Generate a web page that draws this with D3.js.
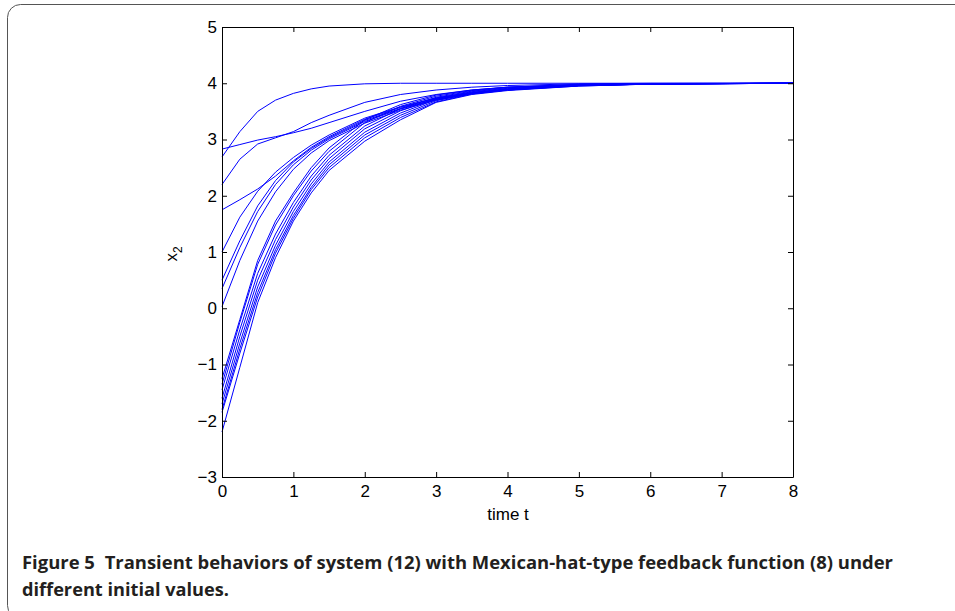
<!DOCTYPE html>
<html>
<head>
<meta charset="utf-8">
<script src="https://cdn.jsdelivr.net/npm/d3@7"></script>
<style>
	body { margin: 0; background: #fff; }
	svg { display: block; }
	.tick text { font-family: "Liberation Sans", Arial, sans-serif; font-size: 17px; fill: #000; }
	.axis-label { font-family: "Liberation Sans", Arial, sans-serif; font-size: 17px; fill: #000; }
	.caption { font-family: "Open Sans", "Noto Sans", sans-serif; font-weight: 700; font-size: 17px; fill: #231f20; }
</style>
</head>
<body>
<div id="chart"></div>
<script>
/* ---- data ---- */
var times = [0, 0.25, 0.5, 0.75, 1, 1.25, 1.5, 2, 2.5, 3, 3.5, 4, 5, 6, 8];

// upper curves
var curveA = [2.69, 3.14, 3.50, 3.70, 3.82, 3.90, 3.95, 3.99, 4.0, 4.0, 4.0, 4.0, 4.0, 4.0, 4.0];
var curveB = [2.83, 2.91, 2.99, 3.05, 3.12, 3.20, 3.30, 3.50, 3.68, 3.80, 3.88, 3.93, 3.97, 3.99, 4.0];
var curveC = [2.20, 2.65, 2.92, 3.03, 3.14, 3.30, 3.43, 3.66, 3.80, 3.88, 3.93, 3.96, 3.99, 4.0, 4.0];

// middle curves
var curveM1 = [1.75, 1.93, 2.12, 2.35, 2.62, 2.86, 3.05, 3.36, 3.57, 3.73, 3.83, 3.89, 3.96, 3.985, 4.0];
var curveM2 = [1.00, 1.62, 2.08, 2.42, 2.68, 2.90, 3.08, 3.38, 3.58, 3.74, 3.84, 3.90, 3.96, 3.985, 4.0];
var curveM3 = [0.50, 1.20, 1.82, 2.27, 2.60, 2.84, 3.03, 3.34, 3.55, 3.72, 3.82, 3.89, 3.96, 3.985, 4.0];
var curveM4 = [0.35, 1.08, 1.72, 2.20, 2.55, 2.81, 3.01, 3.32, 3.54, 3.71, 3.82, 3.88, 3.96, 3.985, 4.0];
var curveM5 = [0.03, 0.85, 1.55, 2.07, 2.47, 2.76, 2.98, 3.29, 3.52, 3.70, 3.81, 3.88, 3.95, 3.985, 4.0];

// lower curves
var curveL1 = [-1.25, -0.20, 0.85, 1.55, 2.05, 2.50, 2.85, 3.35, 3.62, 3.79, 3.88, 3.93, 3.98, 3.995, 4.0];
var curveL2 = [-1.35, -0.25, 0.78, 1.48, 2.00, 2.44, 2.79, 3.30, 3.59, 3.77, 3.87, 3.93, 3.98, 3.995, 4.0];
var curveL3 = [-1.45, -0.38, 0.62, 1.32, 1.88, 2.35, 2.72, 3.24, 3.55, 3.75, 3.86, 3.92, 3.97, 3.99, 4.0];
var curveL4 = [-1.60, -0.50, 0.50, 1.22, 1.80, 2.28, 2.66, 3.19, 3.51, 3.73, 3.85, 3.91, 3.97, 3.99, 4.0];
var curveL5 = [-1.70, -0.62, 0.38, 1.12, 1.72, 2.21, 2.60, 3.13, 3.47, 3.71, 3.83, 3.90, 3.97, 3.99, 4.0];
var curveL6 = [-1.80, -0.72, 0.28, 1.04, 1.65, 2.15, 2.55, 3.08, 3.43, 3.69, 3.82, 3.89, 3.96, 3.99, 4.0];
var curveL7 = [-1.85, -0.80, 0.20, 0.98, 1.60, 2.11, 2.50, 3.03, 3.39, 3.67, 3.81, 3.88, 3.96, 3.99, 4.0];
var curveL8 = [-2.20, -1.05, 0.10, 0.90, 1.55, 2.05, 2.45, 2.97, 3.35, 3.66, 3.80, 3.87, 3.95, 3.985, 4.0];

var allCurves = [curveA, curveB, curveC, curveM1, curveM2, curveM3, curveM4, curveM5,
	curveL1, curveL2, curveL3, curveL4, curveL5, curveL6, curveL7, curveL8];

var xTicks = [0, 1, 2, 3, 4, 5, 6, 7, 8];
var yTicks = [-3, -2, -1, 0, 1, 2, 3, 4, 5];
var xLabel = "time t";
var captionLine1 = "Transient behaviors of system (12) with Mexican-hat-type feedback function (8) under";
var captionLine2 = "different initial values.";

/* ---- layout ---- */
var width = 955,
	height = 611,
	plotLeft = 222,
	plotRight = 793,
	plotTop = 27,
	plotBottom = 477;

var svg = d3.select("#chart").append("svg")
	.attr("width", width)
	.attr("height", height);

// figure frame (rounded, runs off the right edge)
svg.append("rect")
	.attr("x", 7.5)
	.attr("y", 4.5)
	.attr("width", 980)
	.attr("height", 614)
	.attr("rx", 13)
	.attr("fill", "none")
	.attr("stroke", "#555")
	.attr("stroke-width", 1);

var x = d3.scaleLinear().domain([0, 8]).range([plotLeft, plotRight]);
var y = d3.scaleLinear().domain([-3, 5]).range([plotBottom, plotTop]);

// curves
var line = d3.line()
	.x(function(d, i) { return x(times[i]); })
	.y(function(d) { return y(d); });

svg.append("g")
	.selectAll("path")
	.data(allCurves)
	.enter().append("path")
		.attr("d", line)
		.attr("fill", "none")
		.attr("stroke", "#0000ff")
		.attr("stroke-width", 1);

// axes, ticks pointing inwards like matlab
svg.append("g")
	.attr("transform", "translate(0," + plotBottom + ")")
	.call(d3.axisBottom(x).tickValues(xTicks).tickSizeInner(-5).tickSizeOuter(0).tickPadding(8));
svg.append("g")
	.attr("transform", "translate(" + plotLeft + ",0)")
	.call(d3.axisLeft(y).tickValues(yTicks).tickSizeInner(-5).tickSizeOuter(0).tickPadding(5));
svg.append("g")
	.attr("transform", "translate(0," + plotTop + ")")
	.call(d3.axisTop(x).tickValues(xTicks).tickSizeInner(-5).tickSizeOuter(0).tickFormat(""));
svg.append("g")
	.attr("transform", "translate(" + plotRight + ",0)")
	.call(d3.axisRight(y).tickValues(yTicks).tickSizeInner(-5).tickSizeOuter(0).tickFormat(""));

svg.selectAll(".domain").attr("stroke", "#000").attr("stroke-width", 1);
svg.selectAll(".tick line").attr("stroke", "#000");

// axis titles
svg.append("text")
	.attr("class", "axis-label")
	.attr("x", 508)
	.attr("y", 520)
	.attr("text-anchor", "middle")
	.text(xLabel);

var yl = svg.append("text")
	.attr("class", "axis-label")
	.attr("transform", "translate(177,254) rotate(-90)")
	.attr("text-anchor", "middle");
yl.append("tspan").text("x");
yl.append("tspan").attr("dy", 5).attr("font-size", 12).text("2");

// caption
var cap = svg.append("text")
	.attr("class", "caption")
	.attr("x", 22)
	.attr("y", 569)
	.attr("textLength", 871)
	.attr("lengthAdjust", "spacingAndGlyphs");
cap.append("tspan").text("Figure 5");
cap.append("tspan").attr("dx", 9).text(captionLine1);

svg.append("text")
	.attr("class", "caption")
	.attr("x", 22)
	.attr("y", 596)
	.attr("textLength", 207)
	.attr("lengthAdjust", "spacingAndGlyphs")
	.text(captionLine2);
</script>
</body>
</html>
